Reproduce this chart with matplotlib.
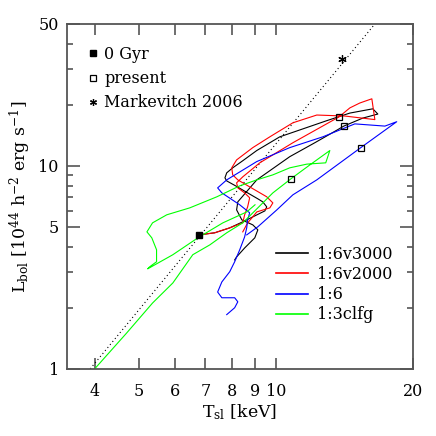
import numpy as np
import matplotlib
matplotlib.use('Agg')
import matplotlib.pyplot as plt
from matplotlib.lines import Line2D
from matplotlib.ticker import FixedLocator, NullFormatter, FixedFormatter

plt.rcParams['font.family'] = ['DejaVu Serif']
plt.rcParams['mathtext.fontset'] = 'dejavuserif'

# tracks in the (T_sl [keV], L_bol) plane
t_v3000 = [6.77, 7.34, 7.92, 8.46, 8.99, 9.46, 9.55, 9.36, 9.13, 8.67, 8.16, 7.80, 7.73,
           7.80, 8.04, 8.46, 9.08, 10.20, 12.94, 14.54, 16.33, 16.75, 15.53, 14.10, 13.62,
           12.18, 10.73, 9.08, 8.25, 8.20, 8.42, 8.90, 9.13, 8.99, 8.54, 8.20, 8.12]
l_v3000 = [4.57, 4.68, 4.95, 5.30, 5.67, 6.00, 6.28, 6.65, 6.88, 7.36, 7.97, 8.43, 8.73,
           9.24, 9.78, 10.6, 11.9, 13.9, 16.7, 18.2, 19.1, 18.0, 17.2, 15.7, 15.0,
           13.0, 11.1, 8.53, 6.65, 6.07, 5.42, 5.12, 4.84, 4.42, 3.94, 3.56, 3.44]

t_v2000 = [6.77, 7.34, 7.92, 8.46, 8.54, 8.67, 8.76, 8.54, 8.25, 8.20, 8.46, 9.22, 10.90,
           13.75, 14.54, 15.29, 16.25, 16.50, 14.17, 12.30, 10.90, 9.70, 8.90, 8.20, 8.00,
           8.04, 8.25, 8.76, 9.55, 9.85, 9.70, 9.08, 8.90, 8.67, 8.46]
l_v2000 = [4.57, 4.68, 4.95, 5.24, 5.74, 6.28, 6.96, 7.36, 7.79, 8.25, 8.83, 10.35, 13.0,
           17.4, 19.3, 20.4, 21.4, 16.9, 17.6, 17.8, 16.3, 13.9, 12.3, 10.7, 9.78,
           9.03, 8.53, 7.88, 7.04, 6.57, 6.21, 5.93, 5.61, 5.24, 4.73]

t_16 = [7.80, 8.12, 8.25, 8.12, 7.61, 7.45, 7.61, 7.92, 8.12, 8.33, 8.54, 8.63, 8.67, 8.76,
        8.33, 7.61, 7.45, 7.80, 9.08, 10.73, 12.68, 14.91, 17.36, 18.43, 15.37, 12.30,
        10.90, 10.05, 9.13, 8.63]
l_16 = [1.85, 2.00, 2.14, 2.24, 2.24, 2.39, 2.68, 3.01, 3.37, 3.86, 4.47, 4.95, 5.42, 5.87,
        6.43, 7.36, 7.79, 8.53, 10.5, 12.3, 13.9, 16.1, 15.7, 16.5, 12.3, 8.53,
        7.20, 6.07, 5.01, 4.57]

t_13clfg = [4.00, 4.70, 5.36, 5.94, 6.57, 7.16, 7.80, 8.46, 8.99, 9.85, 10.79, 11.87, 13.14,
            12.87, 11.70, 10.73, 9.85, 9.08, 8.33, 7.42, 6.47, 5.76, 5.36, 5.21, 5.34,
            5.47, 5.47, 5.28, 5.23, 5.94, 6.74, 7.65, 8.63, 9.00]
l_13clfg = [1.00, 1.50, 2.11, 2.65, 3.65, 4.08, 4.68, 5.24, 6.00, 7.36, 8.63, 10.1, 11.9,
            10.35, 10.2, 9.78, 9.03, 8.53, 7.97, 7.04, 6.21, 5.74, 5.24, 4.73, 4.42,
            3.86, 3.37, 3.18, 3.11, 3.65, 4.42, 5.24, 5.93, 6.43]

# start and present epochs
t_start, l_start = [6.77], [4.57]
t_present = [14.10, 13.75, 15.37, 10.79]
l_present = [15.7, 17.4, 12.3, 8.63]

# observed point and scaling relation
t_obs, l_obs = [14.0], [33.7]
t_rel = [3.91, 16.5]
l_rel = [1.0, 50.0]

tracks = [(t_v3000, l_v3000, 'black', '1:6v3000'),
          (t_v2000, l_v2000, 'red', '1:6v2000'),
          (t_16, l_16, 'blue', '1:6'),
          (t_13clfg, l_13clfg, '#00ff00', '1:3clfg')]

fig = plt.figure(figsize=(4.36, 4.36), dpi=100)
ax = fig.add_axes([0.154, 0.154, 0.793, 0.791])
ax.set_xscale('log')
ax.set_yscale('log')

ax.plot(t_rel, l_rel, color='black', ls=(0, (1, 2.5)), lw=0.8)

handles = []
for t, l, c, name in tracks:
    ax.plot(t, l, color=c, lw=0.8)
    handles.append(Line2D([], [], color=c, lw=1.2, label=name))

ax.plot(t_present, l_present, ls='none', marker='s', ms=5, mfc='none', mec='black', mew=0.9)
ax.plot(t_start, l_start, ls='none', marker='s', ms=4.5, color='black')
ax.plot(t_obs, l_obs, ls='none', marker=(6, 2, 0), ms=6, color='black', mew=0.9)

ax.set_xlim(3.48, 20)
ax.set_ylim(1, 50)

xt = [4, 5, 6, 7, 8, 9, 10, 20]
ax.xaxis.set_major_locator(FixedLocator(xt))
ax.xaxis.set_major_formatter(FixedFormatter([str(v) for v in xt]))
ax.xaxis.set_minor_locator(FixedLocator([]))
yt = [1, 5, 10, 50]
ax.yaxis.set_major_locator(FixedLocator(yt))
ax.yaxis.set_major_formatter(FixedFormatter([str(v) for v in yt]))
ax.yaxis.set_minor_locator(FixedLocator([2, 3, 4, 6, 7, 8, 9, 20, 30, 40]))
ax.yaxis.set_minor_formatter(NullFormatter())

ax.tick_params(which='both', direction='in', top=True, right=True, color='#555555', labelsize=11.5)
ax.tick_params(axis='x', which='major', length=8, width=1.2, pad=10)
ax.tick_params(axis='y', which='major', length=9.5, width=1.2, pad=6)
ax.tick_params(axis='y', which='minor', length=4.5, width=1.2)
for sp in ax.spines.values():
    sp.set_color('#555555')
    sp.set_linewidth(1.3)

ax.set_xlabel(r'T$_{\rm sl}$ [keV]', fontsize=12.5, labelpad=2)
ax.set_ylabel(r'L$_{\rm bol}$ [10$^{44}$ h$^{-2}$ erg s$^{-1}$]', fontsize=12.5, labelpad=4)

mk = [Line2D([], [], ls='none', marker='s', ms=4, color='black', label='0 Gyr'),
      Line2D([], [], ls='none', marker='s', ms=4.5, mfc='none', mec='black', mew=0.9, label='present'),
      Line2D([], [], ls='none', marker=(6, 2, 0), ms=5, color='black', mew=0.9, label='Markevitch 2006')]
leg1 = ax.legend(handles=mk, loc='upper left', bbox_to_anchor=(0.02, 0.978), frameon=False,
                 fontsize=11.5, handlelength=0.6, handletextpad=0.4, labelspacing=0.45)
ax.add_artist(leg1)
ax.legend(handles=handles, loc='lower right', bbox_to_anchor=(0.983, 0.09), frameon=False,
          fontsize=11.5, handlelength=2.0, handletextpad=0.6, labelspacing=0.2)

fig.savefig('out.png', dpi=100)
